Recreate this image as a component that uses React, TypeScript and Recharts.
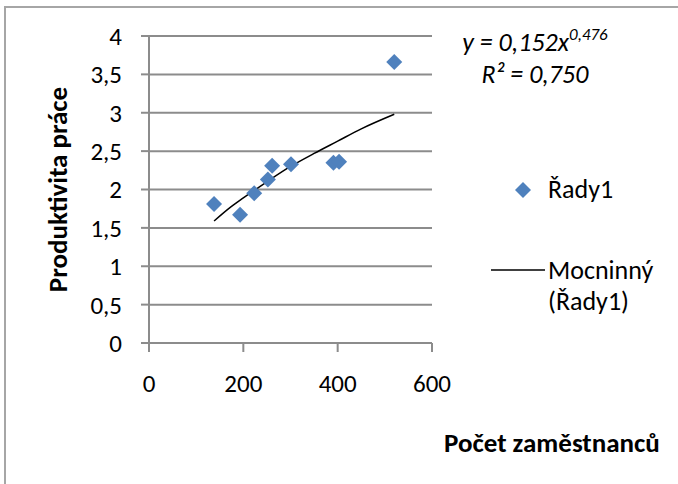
import { ScatterChart, Scatter, XAxis, YAxis, CartesianGrid } from 'recharts'

// body data
const employees = [138, 193, 223, 252, 261, 301, 391, 403, 520]
const productivity = [1.81, 1.67, 1.95, 2.13, 2.31, 2.33, 2.35, 2.36, 3.66]

// power trendline as drawn in the picture
const trendX = [138, 175, 200, 250, 300, 350, 400, 450, 520]
const trendY = [1.59, 1.78, 1.89, 2.1, 2.3, 2.47, 2.63, 2.79, 2.98]

const xTicks = [0, 200, 400, 600]
const yTicks = [0, 0.5, 1, 1.5, 2, 2.5, 3, 3.5, 4]

const FONT = 'Carlito, Calibri, Lato, sans-serif'
const BLUE = '#4f81bd'
const GRID = '#8c8c8c'

const points = employees.map((x, i) => ({ x, y: productivity[i] }))
const trend = trendX.map((x, i) => ({ x, y: trendY[i] }))

const fmt = (v: number) => String(v).replace('.', ',')

const Diamond = ({ cx, cy }: { cx?: number; cy?: number }) => {
  if (cx == null || cy == null) return <g />
  const r = 8
  return (
    <polygon
      points={`${cx},${cy - r} ${cx + r},${cy} ${cx},${cy + r} ${cx - r},${cy}`}
      fill={BLUE}
    />
  )
}

const NoDot = () => <g />

const LegendBox = () => (
  <svg
    width={190}
    height={160}
    style={{ position: 'absolute', left: 491, top: 160, overflow: 'visible' }}
  >
    <polygon points="32,22 40,30 32,38 24,30" fill={BLUE} />
    <text x={57} y={38} fontSize={26} fontFamily={FONT} fill="#000">Řady1</text>
    <line x1={0} y1={110} x2={54} y2={110} stroke="#000" strokeWidth={1.5} />
    <text x={57} y={119} fontSize={26} fontFamily={FONT} fill="#000">Mocninný</text>
    <text x={57} y={150} fontSize={26} fontFamily={FONT} fill="#000">(Řady1)</text>
  </svg>
)

export default function App() {
  return (
    <div
      style={{
        position: 'fixed',
        left: 0,
        top: 0,
        width: 678,
        height: 484,
        overflow: 'hidden',
        background: '#fff',
        fontFamily: FONT,
      }}
    >
      <div
        style={{
          position: 'absolute',
          left: 4,
          top: 6,
          width: 720,
          height: 520,
          border: '2px solid #a6a6a6',
        }}
      />
      <ScatterChart
        width={678}
        height={484}
        margin={{ top: 36, right: 246, bottom: 101, left: 0 }}
        style={{ position: 'absolute', left: 0, top: 0 }}
      >
        <CartesianGrid horizontal vertical={false} stroke={GRID} strokeWidth={2} />
        <XAxis
          type="number"
          dataKey="x"
          domain={[0, 600]}
          ticks={xTicks}
          interval={0}
          height={40}
          axisLine={{ stroke: GRID, strokeWidth: 2 }}
          tickLine={{ stroke: GRID, strokeWidth: 2 }}
          tickSize={9}
          tickMargin={22}
          tick={{ fill: '#000', fontSize: 25, fontFamily: FONT }}
        />
        <YAxis
          type="number"
          dataKey="y"
          domain={[0, 4]}
          ticks={yTicks}
          interval={0}
          width={149}
          axisLine={{ stroke: GRID, strokeWidth: 2 }}
          tickLine={{ stroke: GRID, strokeWidth: 2 }}
          tickSize={8}
          tickMargin={19}
          tickFormatter={fmt}
          tick={{ fill: '#000', fontSize: 25, fontFamily: FONT }}
          label={{
            value: 'Produktivita práce',
            angle: -90,
            position: 'insideLeft',
            offset: 57,
            style: { fontSize: 27, fontWeight: 700, fill: '#000', fontFamily: FONT, textAnchor: 'middle' },
          }}
        />
        <Scatter
          name="Mocninný (Řady1)"
          data={trend}
          line={{ stroke: '#000', strokeWidth: 1.5 }}
          lineJointType="monotoneX"
          shape={<NoDot />}
          isAnimationActive={false}
        />
        <Scatter name="Řady1" data={points} fill={BLUE} shape={<Diamond />} isAnimationActive={false} />
      </ScatterChart>
      <LegendBox />
      <div
        style={{
          position: 'absolute',
          left: 425,
          top: 26,
          width: 220,
          textAlign: 'center',
          fontStyle: 'italic',
          fontSize: 26,
          lineHeight: '32px',
          color: '#000',
        }}
      >
        <div>
          y = 0,152x<sup style={{ fontSize: 17, verticalAlign: 'top', lineHeight: '17px' }}>0,476</sup>
        </div>
        <div>R² = 0,750</div>
      </div>
      <div
        style={{
          position: 'absolute',
          left: 444,
          top: 426,
          fontSize: 27,
          fontWeight: 700,
          color: '#000',
          whiteSpace: 'nowrap',
        }}
      >
        Počet zaměstnanců
      </div>
    </div>
  )
}
